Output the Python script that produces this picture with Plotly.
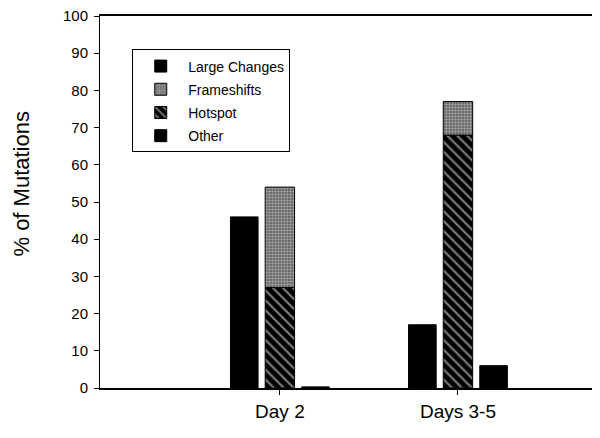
import plotly.graph_objects as go

# dados
grupos = ['Day 2', 'Days 3-5']
grupo_pos = [1, 2]
large_changes = [46, 17]
hotspot = [27, 68]
frameshifts = [27, 9]
other = [0.3, 6]

fonte = 'Liberation Sans, Arial, sans-serif'

fig = go.Figure()

# Large Changes (barra à esquerda)
fig.add_trace(go.Bar(
    x=[p - 0.2 for p in grupo_pos],
    y=large_changes,
    name='Large Changes',
    legendgroup='a',
    width=0.155,
    marker=dict(color='black', line=dict(color='black', width=1)),
    legendrank=1
))

# Hotspot (base da barra empilhada)
fig.add_trace(go.Bar(
    x=grupo_pos,
    y=hotspot,
    name='Hotspot',
    legendgroup='c',
    width=0.165,
    marker=dict(
        color='black',
        line=dict(color='black', width=1),
        pattern=dict(shape='\\', fgcolor='white', size=7, solidity=0.3)
    ),
    legendrank=3
))

# Frameshifts (topo da barra empilhada)
fig.add_trace(go.Bar(
    x=grupo_pos,
    y=frameshifts,
    name='Frameshifts',
    legendgroup='b',
    width=0.165,
    marker=dict(
        color='#5a5a5a',
        line=dict(color='black', width=1),
        pattern=dict(shape='.', fgcolor='#eeeeee', size=3, solidity=0.5)
    ),
    legendrank=2
))

# Other (barra à direita)
fig.add_trace(go.Bar(
    x=[p + 0.2 for p in grupo_pos],
    y=other,
    name='Other',
    legendgroup='d',
    width=0.155,
    marker=dict(color='black', line=dict(color='black', width=1)),
    legendrank=4
))

# título do eixo y (um pouco acima do centro, como no original)
fig.add_annotation(
    text='% of Mutations',
    xref='paper', yref='paper',
    x=-0.159, y=0.55,
    xanchor='center', yanchor='middle',
    textangle=-90,
    showarrow=False,
    font=dict(size=22)
)

fig.update_layout(
    barmode='relative',
    width=592,
    height=430,
    margin=dict(l=92, r=4, t=8, b=50, autoexpand=False),
    plot_bgcolor='white',
    paper_bgcolor='white',
    font=dict(family=fonte, color='black', size=12),
    showlegend=True,
    legend=dict(
        x=0.065, y=0.91, xanchor='left', yanchor='top',
        bordercolor='black', borderwidth=1,
        font=dict(size=14),
        traceorder='grouped',
        tracegroupgap=2,
        itemwidth=45,
        bgcolor='white'
    ),
    xaxis=dict(
        range=[-0.01, 2.775],
        tickvals=grupo_pos,
        ticktext=grupos,
        ticks='outside', ticklen=5, tickcolor='black',
        showline=True, linecolor='black', linewidth=1.5,
        mirror=True,
        showgrid=False, zeroline=False,
        automargin=False,
        tickfont=dict(size=19)
    ),
    yaxis=dict(
        range=[0, 100],
        dtick=10,
        ticks='outside', ticklen=5, tickcolor='black',
        showline=True, linecolor='black', linewidth=1,
        showgrid=False, zeroline=False,
        automargin=False,
        tickfont=dict(size=15),
        ticklabeloverflow='allow',
        ticklabelstandoff=3
    )
)

fig.write_html("out.html")
